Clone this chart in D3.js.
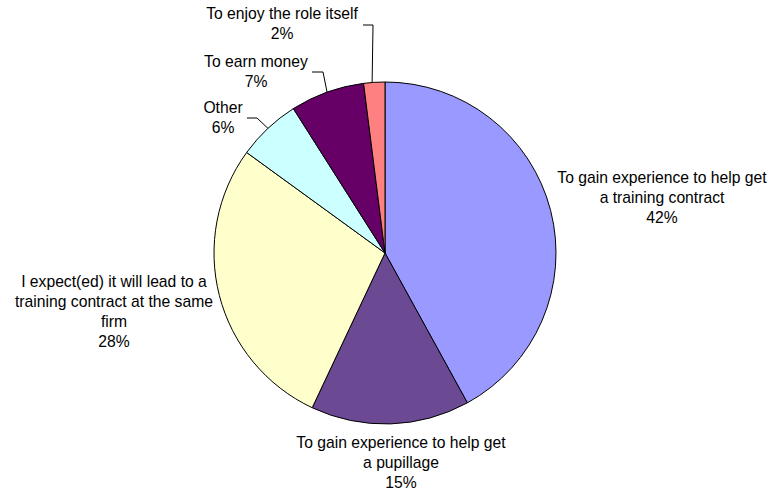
<!DOCTYPE html>
<html><head><meta charset="utf-8">
<script src="https://cdn.jsdelivr.net/npm/d3@7/dist/d3.min.js"></script>
<style>body{margin:0;background:#fff}svg{display:block}</style>
</head><body>
<svg id="c" width="772" height="491"></svg>
<script>
const categories = [
  "To gain experience to help get a training contract",
  "To gain experience to help get a pupillage",
  "I expect(ed) it will lead to a training contract at the same firm",
  "Other",
  "To earn money",
  "To enjoy the role itself"
];
const values = [42, 15, 28, 6, 7, 2];
const colors = ["#9999FF", "#6B4993", "#FFFFCC", "#CCFFFF", "#660066", "#FF8080"];
// label lines as displayed (wrapped) for each category
const labelLines = [
  ["To gain experience to help get", "a training contract"],
  ["To gain experience to help get", "a pupillage"],
  ["I expect(ed) it will lead to a", "training contract at the same", "firm"],
  ["Other"],
  ["To earn money"],
  ["To enjoy the role itself"]
];

const svg = d3.select("#c");
const cx = 385, cy = 253, r = 171;
const g = svg.append("g").attr("transform", `translate(${cx},${cy})`);
const pie = d3.pie().sort(null).value(d => d)(values);
const arc = d3.arc().innerRadius(0).outerRadius(r);
g.selectAll("path").data(pie).enter().append("path")
  .attr("d", arc).attr("fill", (d, i) => colors[i])
  .attr("stroke", "#000").attr("stroke-width", 1);

const total = d3.sum(values);
const pct = v => Math.round(v / total * 100) + "%";

// label placement (centre x, first line y) and optional leader lines
const labelPos = [
  {x: 662, y: 178},
  {x: 401, y: 443},
  {x: 114, y: 282},
  {x: 223, y: 108, leader: [[247,118],[257,118]], f: 0.5},
  {x: 256, y: 62,  leader: [[312,72],[323,72]], f: 0.5},
  {x: 282, y: 14,  leader: [[363,25],[373,25]], f: 0.4}
];
const lh = 20;
pie.forEach((d, i) => {
  const p = labelPos[i];
  const lines = labelLines[i].concat([pct(values[i])]);
  const t = svg.append("text").attr("text-anchor", "middle")
    .attr("font-family", "Liberation Sans, Arial, sans-serif")
    .attr("font-size", "15.7px").attr("fill", "#000");
  lines.forEach((s, k) => {
    t.append("tspan").attr("x", p.x).attr("y", p.y + k * lh).attr("dy", "0.35em").text(s);
  });
  if (p.leader) {
    const a = d.startAngle + p.f * (d.endAngle - d.startAngle);
    const ex = cx + r * Math.sin(a), ey = cy - r * Math.cos(a);
    const pts = p.leader.concat([[ex, ey]]);
    svg.append("path").attr("d", d3.line()(pts))
      .attr("fill", "none").attr("stroke", "#000").attr("stroke-width", 1);
  }
});
</script>
</body></html>
